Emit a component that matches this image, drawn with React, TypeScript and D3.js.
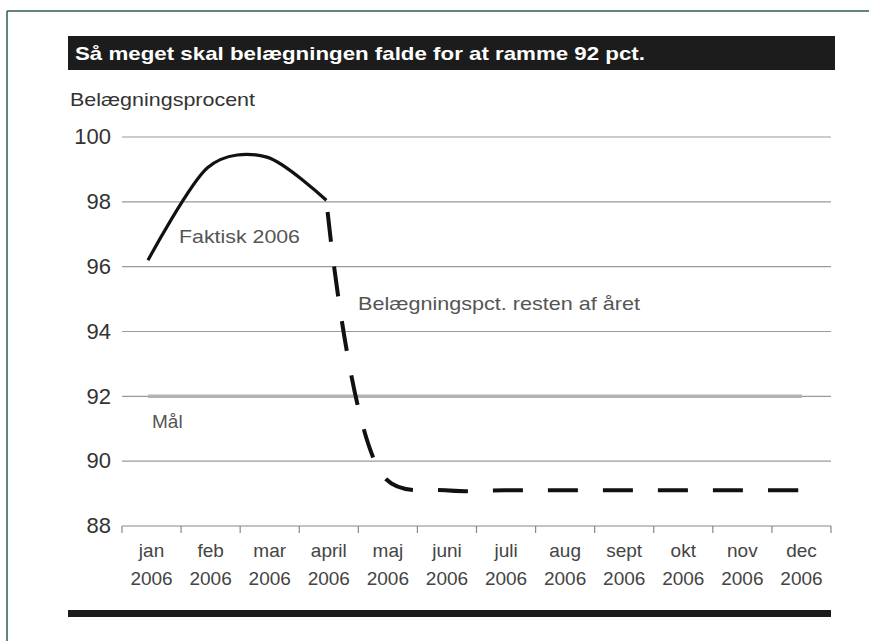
import * as d3 from "d3";

const W = 869;
const H = 641;

const months = ["jan", "feb", "mar", "april", "maj", "juni", "juli", "aug", "sept", "okt", "nov", "dec"];
const yearLabel = "2006";
const yTicks = [88, 90, 92, 94, 96, 98, 100];

// faktisk belægning jan-april
const faktiskMonths = ["jan", "feb", "mar", "april"];
const faktiskValues = [96.2, 99.05, 99.38, 98.05];

// nødvendig belægning resten af året
const restMonths = ["april", "maj", "juni", "juli", "aug", "sept", "okt", "nov", "dec"];
const restValues = [98.05, 89.45, 89.1, 89.1, 89.1, 89.1, 89.1, 89.1, 89.1];

const maalValue = 92;

const title = "Så meget skal belægningen falde for at ramme 92 pct.";
const yTitle = "Belægningsprocent";

const FONT = "'Liberation Sans', Arial, Helvetica, sans-serif";

export default function App() {
  const y = d3.scaleLinear().domain([88, 100]).range([526, 137]);
  const xBand = d3.scaleBand().domain(months).range([122, 831]);
  const x = d3.scalePoint().domain(months).range([148, 802]);

  const solidLine = d3
    .line<number>()
    .x((_, i) => x(faktiskMonths[i])!)
    .y((d) => y(d))
    .curve(d3.curveCardinal.tension(0.12));

  const dashLine = d3
    .line<number>()
    .x((_, i) => x(restMonths[i])!)
    .y((d) => y(d))
    .curve(d3.curveCatmullRom.alpha(0.5));

  const maalLine = d3
    .line<string>()
    .x((m) => x(m)!)
    .y(() => y(maalValue));

  const [x0, x1] = xBand.range();
  const bw = xBand.bandwidth();

  return (
    <svg
      width={W}
      height={H}
      style={{ position: "absolute", left: 0, top: 0, background: "#fff" }}
      fontFamily={FONT}
    >
      {/* ramme */}
      <line x1={7} x2={W} y1={11} y2={11} stroke="#2f5f47" strokeWidth={1.5} />
      <line x1={7} x2={7} y1={11} y2={H} stroke="#2f5f47" strokeWidth={1.5} />

      {/* titelbjælke */}
      <rect x={68} y={36} width={767} height={34} fill="#1c1c1c" />
      <text
        x={75}
        y={60}
        fill="#fff"
        fontSize={19}
        fontWeight="bold"
        textLength={570}
        lengthAdjust="spacingAndGlyphs"
      >
        {title}
      </text>

      <text x={70} y={106} fontSize={19} fill="#333" textLength={185} lengthAdjust="spacingAndGlyphs">
        {yTitle}
      </text>

      {/* gitterlinjer + y-akse */}
      {yTicks.map((t) => (
        <g key={t}>
          <line x1={x0} x2={x1} y1={y(t)} y2={y(t)} stroke={t === 88 ? "#888" : "#9a9a9a"} strokeWidth={1.2} />
          <text x={111} y={y(t)} dy="0.33em" textAnchor="end" fontSize={22} fill="#333">
            {t}
          </text>
        </g>
      ))}

      {/* x-akse ticks */}
      {[...months.map((m) => xBand(m)!), x1].map((tx, i) => (
        <line key={i} x1={tx} x2={tx} y1={y(88)} y2={y(88) + 7} stroke="#888" strokeWidth={1.2} />
      ))}
      {months.map((m) => (
        <g key={m} fontSize={19} fill="#444" textAnchor="middle">
          <text x={xBand(m)! + bw / 2} y={557}>
            {m}
          </text>
          <text x={xBand(m)! + bw / 2} y={585}>
            {yearLabel}
          </text>
        </g>
      ))}

      {/* mål */}
      <path d={maalLine(months)!} fill="none" stroke="#b3b3b3" strokeWidth={3.5} />

      {/* linjer */}
      <path d={solidLine(faktiskValues)!} fill="none" stroke="#111" strokeWidth={3.2} />
      <path
        d={dashLine(restValues)!}
        fill="none"
        stroke="#111"
        strokeWidth={4}
        strokeDasharray="30,25"
        strokeDashoffset={-12}
      />

      {/* etiketter */}
      <text x={x("jan")! + 31} y={y(96.73)} fontSize={19} fill="#555" textLength={121} lengthAdjust="spacingAndGlyphs">
        Faktisk 2006
      </text>
      <text x={358} y={y(94.66)} fontSize={19} fill="#555" textLength={282} lengthAdjust="spacingAndGlyphs">
        Belægningspct. resten af året
      </text>
      <text x={x("jan")! + 4} y={y(91.02)} fontSize={19} fill="#555">
        Mål
      </text>

      {/* bundbjælke */}
      <rect x={68} y={610} width={x1 - 68} height={7} fill="#1c1c1c" />
    </svg>
  );
}
